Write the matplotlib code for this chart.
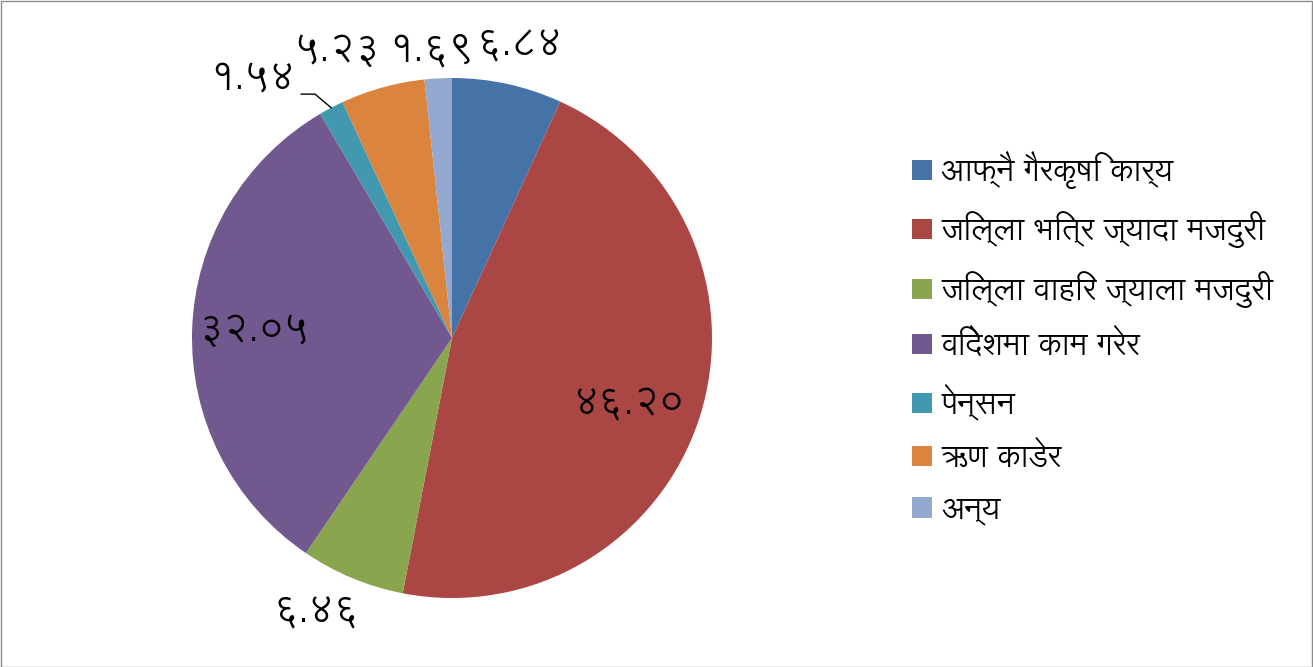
import os
import numpy as np
import matplotlib
matplotlib.use("Agg")
import matplotlib.pyplot as plt
from matplotlib import font_manager as fm
from matplotlib.font_manager import FontProperties

def find_font(names):
    files = fm.findSystemFonts()
    for n in names:
        for f in files:
            if os.path.basename(f) == n:
                return f
    return None

fpath = find_font(["Lohit-Devanagari.ttf", "NotoSansDevanagari-Regular.ttf",
                   "NotoSansDevanagari[wdth,wght].ttf", "Hind-Regular.ttf"])
if fpath:
    fm.fontManager.addfont(fpath)
    fam = FontProperties(fname=fpath).get_name()
    plt.rcParams["font.family"] = [fam, "DejaVu Sans"]

categories = ["आफ्नै गैरकृषि कार्य", "जिल्ला भित्र ज्यादा मजदुरी", "जिल्ला वाहिर ज्याला मजदुरी",
              "विदेशमा काम गरेर", "पेन्सन", "ऋण काडेर", "अन्य"]
values = [6.84, 46.20, 6.46, 32.05, 1.54, 5.23, 1.69]
value_labels = ["६.८४", "४६.२०", "६.४६", "३२.०५", "१.५४", "५.२३", "१.६९"]
colors = ["#4572A7", "#AA4643", "#89A54E", "#71588F", "#4198AF", "#DB843D", "#93A9CF"]

# label centre positions in units of the pie radius (layout only)
label_pos = [(0.26, 1.13), (0.68, -0.25), (-0.52, -1.05), (-0.76, 0.03),
             (-0.77, 1.0), (-0.44, 1.11), (-0.08, 1.11)]

W, H = 1313, 667
fig = plt.figure(figsize=(W / 100, H / 100), dpi=100)
fig.patches.append(plt.Rectangle((0.5 / W, 0.5 / H), 1 - 1.5 / W, 1 - 1.5 / H,
                                 transform=fig.transFigure, fill=False,
                                 edgecolor="#8c8c8c", linewidth=1))
cx, cy, r = 452, 338, 260
ax = fig.add_axes([(cx - r) / W, (H - cy - r) / H, 2 * r / W, 2 * r / H])
wedges, _ = ax.pie(values, colors=colors, startangle=90, counterclock=False,
                   wedgeprops=dict(linewidth=0))
ax.set_xlim(-1, 1)
ax.set_ylim(-1, 1)
ax.set_aspect("equal")

for lab, (x, y) in zip(value_labels, label_pos):
    ax.text(x, y, lab, ha="center", va="center", fontsize=28, color="black",
            clip_on=False)

# leader line for the small pension slice
w = wedges[4]
mid = np.deg2rad((w.theta1 + w.theta2) / 2)
ex, ey = np.cos(mid), np.sin(mid)
ax.plot([ex, -0.527, -0.58], [ey, 0.938, 0.938], color="black", lw=1,
        clip_on=False)

fig.legend(wedges, categories, loc="center left",
           bbox_to_anchor=(900 / W, 1 - 338 / H), frameon=False,
           fontsize=22.5, handlelength=0.62, handleheight=0.62,
           handletextpad=0.3, labelspacing=0.72, borderaxespad=0)
fig.savefig("out.png", dpi=100)
